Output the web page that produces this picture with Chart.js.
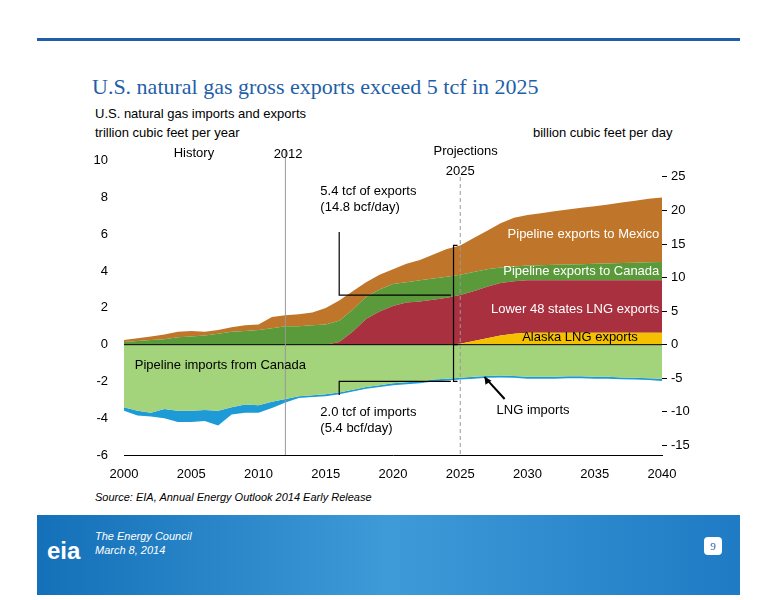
<!DOCTYPE html>
<html><head><meta charset="utf-8">
<script src="https://cdn.jsdelivr.net/npm/chart.js@4"></script>
<style>
body{margin:0;width:776px;height:600px;background:#fff;font-family:"Liberation Sans",Arial,sans-serif;position:relative;overflow:hidden}
#topline{position:absolute;left:37px;top:38px;width:703px;height:3px;background:#1f5fa8}
#title{position:absolute;left:92px;top:74px;font-family:"Liberation Serif",serif;font-size:22px;color:#1f5fa8}
#sub1{position:absolute;left:95px;top:106px;font-size:13px}
#sub2{position:absolute;left:95px;top:125px;font-size:13px}
#sub3{position:absolute;left:533px;top:125px;font-size:13px}
#src{position:absolute;left:95px;top:491px;font-size:11px;font-style:italic}
#foot{position:absolute;left:37px;top:515px;width:703px;height:80px;background:linear-gradient(90deg,#1470b8,#3f9ad8 50%,#1e7bc4)}
#logo{position:absolute;left:10px;top:22px;color:#fff;font-size:24px;font-weight:bold}
#ft{position:absolute;left:58px;top:14px;color:#fff;font-size:11px;font-style:italic;line-height:14px}
#pg{position:absolute;left:667px;top:22px;width:18px;height:18px;background:#fff;border-radius:4px;color:#1f5fa8;font-size:11px;text-align:center;line-height:18px;font-family:"Liberation Serif",serif}
#wrap{position:absolute;left:80px;top:145px;width:640px;height:335px}
</style></head><body>
<div id="topline"></div>
<div id="title">U.S. natural gas gross exports exceed 5 tcf in 2025</div>
<div id="sub1">U.S. natural gas imports and exports</div>
<div id="sub2">trillion cubic feet per year</div>
<div id="sub3">billion cubic feet per day</div>
<div id="wrap"><canvas id="c"></canvas></div>
<div id="src">Source:  EIA, Annual Energy Outlook 2014 Early Release</div>
<div id="foot"><div id="logo">eia</div><div id="ft">The Energy Council<br>March 8, 2014</div><div id="pg">9</div></div>
<script>
const years = Array.from({length: 41}, (_, i) => 2000 + i);
const alaskaLng = [0,0,0,0,0,0,0,0,0,0,0,0,0,0,0,0,0,0,0,0,0,0,0,0,0,0.05,0.2,0.35,0.5,0.6,0.65,0.65,0.65,0.65,0.65,0.65,0.65,0.65,0.65,0.65,0.65];
const lower48Lng = [0,0,0,0,0,0,0,0,0,0,0,0,0,0,0,0,0.15,0.7,1.4,1.8,2.1,2.3,2.35,2.45,2.55,2.65,2.7,2.8,2.85,2.85,2.85,2.85,2.85,2.85,2.85,2.85,2.85,2.85,2.85,2.85,2.85];
const pipeCanada = [0.15,0.2,0.25,0.3,0.4,0.45,0.5,0.6,0.7,0.75,0.8,0.9,1.0,1.0,1.05,1.1,1.15,1.2,1.2,1.2,1.2,1.1,1.15,1.15,1.15,1.1,1.05,0.95,0.85,0.8,0.8,0.82,0.84,0.86,0.88,0.9,0.92,0.94,0.96,0.98,1.0];
const pipeMexico = [0.1,0.15,0.2,0.25,0.3,0.3,0.2,0.2,0.25,0.3,0.3,0.6,0.6,0.65,0.7,0.9,1.1,1.0,0.8,0.8,0.8,1.0,1.1,1.3,1.5,1.6,1.85,2.1,2.4,2.65,2.75,2.83,2.91,2.99,3.07,3.13,3.21,3.29,3.37,3.45,3.5];
const impCanada = [-3.4,-3.6,-3.7,-3.5,-3.6,-3.6,-3.55,-3.6,-3.4,-3.25,-3.3,-3.1,-2.95,-2.8,-2.75,-2.7,-2.6,-2.45,-2.3,-2.2,-2.1,-2.05,-2.0,-1.9,-1.85,-1.8,-1.75,-1.7,-1.68,-1.7,-1.75,-1.75,-1.75,-1.72,-1.72,-1.75,-1.75,-1.78,-1.8,-1.82,-1.85];
const impLng = [-0.2,-0.25,-0.2,-0.5,-0.6,-0.6,-0.6,-0.8,-0.4,-0.45,-0.4,-0.35,-0.2,-0.1,-0.1,-0.1,-0.1,-0.1,-0.1,-0.1,-0.1,-0.1,-0.1,-0.1,-0.1,-0.1,-0.1,-0.1,-0.1,-0.1,-0.1,-0.1,-0.1,-0.1,-0.1,-0.1,-0.1,-0.1,-0.1,-0.1,-0.12];
const leftTicks = [-6,-4,-2,0,2,4,6,8,10];
const rightTicks = [-15,-10,-5,0,5,10,15,20,25];
const xTicks = [2000,2005,2010,2015,2020,2025,2030,2035,2040];

const pts = arr => arr.map((v, i) => ({x: years[i], y: v}));
function ds(label, data, color, stack, fill) {
  return {label, data: pts(data), backgroundColor: color, borderColor: color, borderWidth: 0, pointRadius: 0, fill, stack, tension: 0};
}

const annot = {
  id: 'annot',
  afterDatasetsDraw(ch) {
    const c = ch.ctx, x = ch.scales.x, y = ch.scales.y, a = ch.chartArea;
    c.save();
    // zero line
    c.strokeStyle = '#000'; c.lineWidth = 1;
    c.beginPath(); c.moveTo(a.left, y.getPixelForValue(0)); c.lineTo(a.right, y.getPixelForValue(0)); c.stroke();
    // 2012 and 2025 markers
    c.strokeStyle = '#999';
    c.beginPath(); c.moveTo(x.getPixelForValue(2012), 5); c.lineTo(x.getPixelForValue(2012), a.bottom); c.stroke();
    c.setLineDash([4, 3]);
    c.beginPath(); c.moveTo(x.getPixelForValue(2025), 32); c.lineTo(x.getPixelForValue(2025), a.bottom); c.stroke();
    c.setLineDash([]);
    c.fillStyle = '#000'; c.font = '13px "Liberation Sans", Arial';
    c.textAlign = 'center';
    c.fillText('History', x.getPixelForValue(2005.2), 12);
    c.fillText('2012', x.getPixelForValue(2012.2), 13);
    c.fillText('Projections', x.getPixelForValue(2025.4), 10);
    c.fillText('2025', x.getPixelForValue(2025), 30);
    c.textAlign = 'left';
    c.fillText('5.4 tcf of exports', x.getPixelForValue(2014.6), 50);
    c.fillText('(14.8 bcf/day)', x.getPixelForValue(2014.6), 66);
    c.fillText('2.0 tcf of imports', x.getPixelForValue(2014.6), 271);
    c.fillText('(5.4 bcf/day)', x.getPixelForValue(2014.6), 287);
    c.fillText('LNG imports', x.getPixelForValue(2027.7), 269);
    c.fillText('Pipeline imports from Canada', x.getPixelForValue(2000.8), y.getPixelForValue(-1.3));
    c.fillStyle = '#fff';
    c.textAlign = 'right';
    c.fillText('Pipeline exports to Mexico', x.getPixelForValue(2039.8), y.getPixelForValue(5.8));
    c.fillText('Pipeline exports to Canada', x.getPixelForValue(2039.8), y.getPixelForValue(3.8));
    c.fillText('Lower 48 states LNG exports', x.getPixelForValue(2039.8), y.getPixelForValue(1.7));
    c.fillStyle = '#000';
    c.fillText('Alaska LNG exports', x.getPixelForValue(2038.2), y.getPixelForValue(0.2));
    // arrows / brackets
    c.strokeStyle = '#000'; c.lineWidth = 1.2;
    const xa = x.getPixelForValue(2016), xb = x.getPixelForValue(2024.3), xc = x.getPixelForValue(2024.5);
    c.beginPath();
    c.moveTo(xa, 87); c.lineTo(xa, y.getPixelForValue(2.7)); c.lineTo(xb, y.getPixelForValue(2.7));
    c.moveTo(xa, 250); c.lineTo(xa, y.getPixelForValue(-2.0)); c.lineTo(xb, y.getPixelForValue(-2.0));
    c.moveTo(xc + 4, y.getPixelForValue(5.4)); c.lineTo(xc, y.getPixelForValue(5.4)); c.lineTo(xc, y.getPixelForValue(-2.0)); c.lineTo(xc + 4, y.getPixelForValue(-2.0));
    c.moveTo(xc, y.getPixelForValue(0)); c.lineTo(xc + 4, y.getPixelForValue(0));
    c.stroke();
    c.lineWidth = 2;
    const lx1 = x.getPixelForValue(2028.3), ly1 = 254, lx2 = x.getPixelForValue(2026.8), ly2 = y.getPixelForValue(-1.75);
    c.beginPath(); c.moveTo(lx1, ly1); c.lineTo(lx2, ly2); c.stroke();
    c.beginPath(); c.moveTo(lx2, ly2); c.lineTo(lx2 + 1, ly2 + 8); c.lineTo(lx2 + 7, ly2 + 4); c.closePath(); c.fill();
    c.restore();
  }
};

new Chart(document.getElementById('c'), {
  type: 'line',
  data: {
    datasets: [
      ds('Alaska LNG exports', alaskaLng, '#f5c000', 'exp', 'origin'),
      ds('Lower 48 states LNG exports', lower48Lng, '#a8303f', 'exp', '-1'),
      ds('Pipeline exports to Canada', pipeCanada, '#5a9a3a', 'exp', '-1'),
      ds('Pipeline exports to Mexico', pipeMexico, '#c0762a', 'exp', '-1'),
      ds('Pipeline imports from Canada', impCanada, '#a3d37a', 'imp', 'origin'),
      ds('LNG imports', impLng, '#1e9bd7', 'imp', '-1')
    ]
  },
  options: {
    responsive: true, maintainAspectRatio: false, animation: false,
    layout: {padding: {top: 13}},
    plugins: {legend: {display: false}, tooltip: {enabled: false}},
    scales: {
      x: {type: 'linear', min: 2000, max: 2040,
        afterBuildTicks: s => { s.ticks = xTicks.map(v => ({value: v})); },
        ticks: {color: '#000', font: {size: 13, family: '"Liberation Sans", Arial'}, maxRotation: 0, padding: 4, callback: v => String(v)},
        grid: {display: false}, border: {color: '#000'},
        afterFit: s => { s.height = 25; }},
      y: {stacked: true, min: -6, max: 10, position: 'left',
        afterBuildTicks: s => { s.ticks = leftTicks.map(v => ({value: v})); },
        ticks: {color: '#000', font: {size: 13, family: '"Liberation Sans", Arial'}, padding: 8},
        grid: {display: false}, border: {display: false},
        afterFit: s => { s.width = 44; }},
      y2: {min: -6 * 2.74, max: 10 * 2.74, position: 'right',
        afterBuildTicks: s => { s.ticks = rightTicks.map(v => ({value: v})); },
        ticks: {color: '#000', font: {size: 13, family: '"Liberation Sans", Arial'}, padding: 4},
        grid: {drawOnChartArea: false, tickLength: 5, color: '#000'}, border: {display: false},
        afterFit: s => { s.width = 58; }}
    }
  },
  plugins: [annot]
});
</script>
</body></html>
